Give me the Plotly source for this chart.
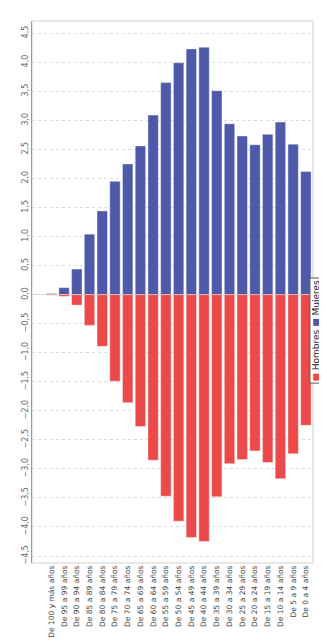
import plotly.graph_objects as go

categorias = ["De 100 y más años", "De 95 a 99 años", "De 90 a 94 años", "De 85 a 89 años",
              "De 80 a 84 años", "De 75 a 79 años", "De 70 a 74 años", "De 65 a 69 años",
              "De 60 a 64 años", "De 55 a 59 años", "De 50 a 54 años", "De 45 a 49 años",
              "De 40 a 44 años", "De 35 a 39 años", "De 30 a 34 años", "De 25 a 29 años",
              "De 20 a 24 años", "De 15 a 19 años", "De 10 a 14 años", "De 5 a 9 años",
              "De 0 a 4 años"]
mujeres = [0.02, 0.12, 0.44, 1.04, 1.44, 1.95, 2.25, 2.56, 3.09, 3.65, 3.99, 4.23, 4.26,
           3.51, 2.94, 2.73, 2.58, 2.76, 2.97, 2.59, 2.12]
hombres = [-0.01, -0.03, -0.18, -0.53, -0.89, -1.49, -1.86, -2.27, -2.85, -3.47, -3.90, -4.18,
           -4.25, -3.48, -2.91, -2.84, -2.69, -2.89, -3.17, -2.74, -2.25]

AZUL = "#4e5aa9"
ROJO = "#ec4a4a"

W, H = 327, 642
L, R, T, B = 24, 22, 13, 74
pw, ph = W - L - R, H - T - B

def px(x):
    return (x - L) / pw

def py(y):
    return (H - B - y) / ph

fig = go.Figure()
fig.add_bar(x=categorias, y=mujeres, name="Mujeres",
            marker=dict(color=AZUL, line=dict(color="rgba(255,255,255,0.5)", width=0.8)))
fig.add_bar(x=categorias, y=hombres, name="Hombres",
            marker=dict(color=ROJO, line=dict(color="rgba(255,255,255,0.5)", width=0.8)))

fig.update_layout(
    width=W, height=H, barmode="relative", bargap=0.18,
    margin=dict(l=L, r=R, t=T, b=B),
    plot_bgcolor="white", paper_bgcolor="white",
    separators=",.", showlegend=False,
    font=dict(family="DejaVu Sans", size=8, color="#444"),
)
fig.update_xaxes(range=[-1.52, 20.56], tickangle=-90, showgrid=False, showline=False,
                 ticks="", tickfont=dict(size=7.5, color="#444"))
fig.update_yaxes(range=[-4.62, 4.71], dtick=0.5, tick0=0, tickformat=".1f", tickangle=-90,
                 showgrid=True, gridcolor="#dcdcdc", griddash="dot", gridwidth=1,
                 zeroline=True, zerolinecolor="#d8d8d8", zerolinewidth=1,
                 showline=True, linecolor="#9a9a9a", linewidth=1,
                 ticks="", tickfont=dict(size=8, color="#666"))

# plot border
fig.add_shape(type="rect", xref="paper", yref="paper", x0=0, x1=1, y0=0, y1=1,
              line=dict(color="#d0d0d0", width=1), layer="below")

# legend (rotated, drawn as a bordered annotation)
legend_text = (f'<span style="color:{ROJO}">■</span> Hombres '
               f'<span style="color:{AZUL}">■</span> Mujeres')
fig.add_annotation(xref="paper", yref="paper", x=px(315.5), y=py(330.5), text=legend_text,
                   textangle=-90, showarrow=False, bordercolor="#555", borderwidth=1, borderpad=1,
                   bgcolor="white", font=dict(size=9, color="#222", family="DejaVu Sans"))

fig.write_html("out.html")
